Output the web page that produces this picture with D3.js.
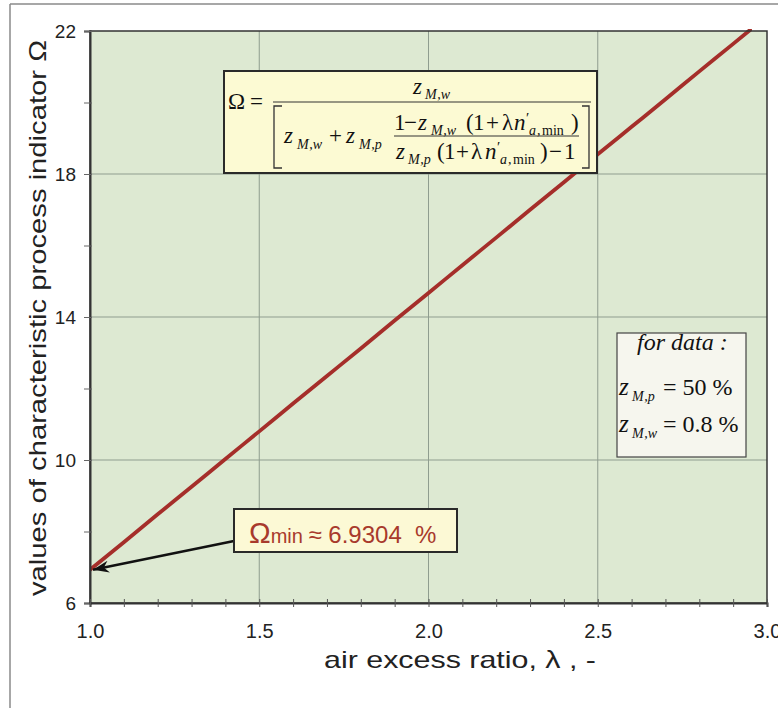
<!DOCTYPE html>
<html><head><meta charset="utf-8">
<script src="https://cdn.jsdelivr.net/npm/d3@7"></script>
<style>
html,body{margin:0;padding:0;background:#fff;}
svg{display:block;}
</style></head>
<body>
<svg id="chart" width="778" height="708"></svg>
<script>
// ---- data ----
const lambdaValues = [1.0,1.1,1.2,1.3,1.4,1.5,1.6,1.7,1.8,1.9,2.0,2.1,2.2,2.3,2.4,2.5,2.6,2.7,2.8,2.9,2.95];
const omegaValues  = [6.93,7.70,8.48,9.25,10.03,10.80,11.58,12.35,13.12,13.90,14.67,15.45,16.22,17.00,17.77,18.55,19.32,20.09,20.87,21.64,22.03];
const xTickValues = [1.0,1.1,1.2,1.3,1.4,1.5,1.6,1.7,1.8,1.9,2.0,2.1,2.2,2.3,2.4,2.5,2.6,2.7,2.8,2.9,3.0];
const xTickLabels = [1.0,1.5,2.0,2.5,3.0];
const yTickValues = [6,8,10,12,14,16,18,20,22];
const yTickLabels = [6,10,14,18,22];
const omegaMin = 6.9304;

const svg = d3.select("#chart");
const L = 90, R = 767, T = 31, B = 603;
const x = d3.scaleLinear().domain([1,3]).range([L,R]);
const y = d3.scaleLinear().domain([6,22]).range([B,T]);
const sans = "'Liberation Sans', Arial, sans-serif";
const serif = "'Liberation Serif', 'Times New Roman', serif";

// outer frame
svg.append("line").attr("x1",10).attr("y1",4).attr("x2",778).attr("y2",4).attr("stroke","#8a8a8a").attr("stroke-width",1.5);
svg.append("line").attr("x1",10).attr("y1",4).attr("x2",10).attr("y2",708).attr("stroke","#8a8a8a").attr("stroke-width",1.5);

// plot background
svg.append("rect").attr("x",L).attr("y",T).attr("width",R-L).attr("height",B-T).attr("fill","#dde9d2");

// grid
const grid = svg.append("g").attr("stroke","#8f9d8f").attr("stroke-width",1);
[10,14,18].forEach(v=>grid.append("line").attr("x1",L).attr("x2",R).attr("y1",y(v)).attr("y2",y(v)));
[1.5,2.0,2.5].forEach(v=>grid.append("line").attr("y1",T).attr("y2",B).attr("x1",x(v)).attr("x2",x(v)));

// clip
svg.append("clipPath").attr("id","clip").append("rect").attr("x",L).attr("y",T-2).attr("width",R-L).attr("height",B-T+2);

// data line
const pts = lambdaValues.map((l,i)=>[l,omegaValues[i]]);
svg.append("path").datum(pts).attr("clip-path","url(#clip)")
  .attr("d", d3.line().x(d=>x(d[0])).y(d=>y(d[1])).curve(d3.curveMonotoneX))
  .attr("fill","none").attr("stroke","#a52e2a").attr("stroke-width",3.8).attr("stroke-linecap","round");

// plot border
svg.append("rect").attr("x",L).attr("y",T).attr("width",R-L).attr("height",B-T)
  .attr("fill","none").attr("stroke","#333").attr("stroke-width",1.5);

// y axis
const yAxis = svg.append("g").attr("transform",`translate(${L},0)`)
  .call(d3.axisLeft(y).tickValues(yTickValues).tickSize(6).tickPadding(8)
    .tickFormat(d=>yTickLabels.includes(d)?d:""));
yAxis.select(".domain").attr("stroke","#333").attr("stroke-width",2);
yAxis.selectAll(".tick line").attr("x1",2).attr("x2",-6).attr("stroke","#666");
yAxis.selectAll(".tick text").attr("font-family",sans).attr("font-size",19).attr("fill","#222").attr("x",-14);

// x axis
const xAxis = svg.append("g").attr("transform",`translate(0,${B})`)
  .call(d3.axisBottom(x).tickValues(xTickValues).tickSize(4).tickPadding(8)
    .tickFormat(d=>xTickLabels.some(v=>Math.abs(v-d)<1e-9)?d3.format(".1f")(d):""));
xAxis.select(".domain").attr("stroke","#333").attr("stroke-width",2);
xAxis.selectAll(".tick line").attr("y1",-4).attr("y2",4).attr("stroke","#555");
xAxis.selectAll(".tick text").attr("font-family",sans).attr("font-size",20).attr("fill","#222")
  .attr("y",21).attr("dy","0.71em");

// axis titles
svg.append("text").attr("x",460).attr("y",668).attr("text-anchor","middle")
  .attr("font-family",sans).attr("font-size",24).attr("fill","#222")
  .attr("textLength",272).attr("lengthAdjust","spacingAndGlyphs")
  .text("air excess  ratio,  λ , -");
svg.append("text").attr("transform","translate(46,318) rotate(-90)").attr("text-anchor","middle")
  .attr("font-family",sans).attr("font-size",24).attr("fill","#222")
  .attr("textLength",556).attr("lengthAdjust","spacingAndGlyphs")
  .text("values of characteristic process indicator  Ω");

// ---- formula box ----
const fb = svg.append("g");
fb.append("rect").attr("x",224).attr("y",71).attr("width",373).attr("height",102)
  .attr("fill","#fcfad3").attr("stroke","#2a2a2a").attr("stroke-width",2);
function tok(g, px, py, t, size, italic){
  g.append("text").attr("x",px).attr("y",py).attr("font-family",serif).attr("font-size",size)
   .attr("font-style",italic?"italic":"normal").attr("fill","#111")
   .attr("xml:space","preserve").text(t);
}
function sub(g, px, py, a, b, size){
  const s = size||14;
  tok(g,px,py,a,s,true);
  tok(g,px+s*0.88,py,",",s,true);
  tok(g,px+s*1.12,py,b,s,true);
}
tok(fb,228,109,"Ω",23,false);
tok(fb,250,109,"=",23,false);
fb.append("line").attr("x1",273).attr("x2",591).attr("y1",102).attr("y2",102).attr("stroke","#333").attr("stroke-width",1.2);
// numerator
tok(fb,413,94,"z",23,true);
sub(fb,425,99,"M","w");
// brackets
fb.append("path").attr("d","M282,106 L274,106 L274,168 L282,168").attr("fill","none").attr("stroke","#333").attr("stroke-width",1.3);
fb.append("path").attr("d","M582,106 L589,106 L589,168 L582,168").attr("fill","none").attr("stroke","#333").attr("stroke-width",1.3);
// denominator main
tok(fb,284,143,"z",23,true);
sub(fb,297,149,"M","w");
tok(fb,329,143,"+",23,false);
tok(fb,346,143,"z",23,true);
sub(fb,359,149,"M","p");
// inner fraction
fb.append("line").attr("x1",394).attr("x2",579).attr("y1",136).attr("y2",136).attr("stroke","#333").attr("stroke-width",1);
const yn = 130, ys = 135;
tok(fb,394,yn,"1",23,false);
tok(fb,404,yn,"−",23,false);
tok(fb,418,yn,"z",23,true);
sub(fb,431,ys,"M","w");
tok(fb,466,yn,"(",23,false);
tok(fb,473,yn,"1",23,false);
tok(fb,486,yn,"+",23,false);
tok(fb,502,yn,"λ",23,false);
tok(fb,514,yn,"n",23,true);
tok(fb,526,yn-7,"′",15,false);
tok(fb,529,ys,"a",14,true);
tok(fb,537,ys,",",14,false);
tok(fb,542,ys,"min",14,false);
tok(fb,571,yn,")",23,false);
const yd = 159, yds = 164;
tok(fb,396,yd,"z",23,true);
sub(fb,408,yds,"M","p");
tok(fb,437,yd,"(",23,false);
tok(fb,444,yd,"1",23,false);
tok(fb,456,yd,"+",23,false);
tok(fb,471,yd,"λ",23,false);
tok(fb,485,yd,"n",23,true);
tok(fb,497,yd-7,"′",15,false);
tok(fb,500,yds,"a",14,true);
tok(fb,508,yds,",",14,false);
tok(fb,513,yds,"min",14,false);
tok(fb,540,yd,")",23,false);
tok(fb,549,yd,"−",23,false);
tok(fb,564,yd,"1",23,false);

// ---- data box ----
const db = svg.append("g");
db.append("rect").attr("x",617).attr("y",333).attr("width",129).attr("height",124)
  .attr("fill","#f6f6ee").attr("stroke","#444").attr("stroke-width",1.2);
tok(db,637,350,"for data :",24,true);
tok(db,619,395,"z",25,true);
sub(db,632,401,"M","p",14);
tok(db,663,395,"= 50 %",24,false);
tok(db,619,432,"z",25,true);
sub(db,632,438,"M","w",14);
tok(db,663,432,"= 0.8 %",24,false);

// ---- Ω min annotation ----
svg.append("defs").append("marker").attr("id","arr").attr("viewBox","-16 -7 18 14")
  .attr("refX",0).attr("refY",0).attr("markerWidth",18).attr("markerHeight",14)
  .attr("markerUnits","userSpaceOnUse").attr("orient","auto")
  .append("path").attr("d","M0,0 L-16,-6 L-11,0 L-16,6 Z").attr("fill","#111");
svg.append("line").attr("x1",234).attr("y1",541).attr("x2",x(1.0)+3).attr("y2",y(omegaMin))
  .attr("stroke","#111").attr("stroke-width",2.5).attr("marker-end","url(#arr)");
const ab = svg.append("g");
ab.append("rect").attr("x",234).attr("y",509).attr("width",223).attr("height",43)
  .attr("fill","#fcf9d5").attr("stroke","#2a2a2a").attr("stroke-width",2);
const at = ab.append("text").attr("x",249).attr("y",543).attr("font-family",sans).attr("fill","#a83a2c").attr("xml:space","preserve");
at.append("tspan").attr("font-size",29).text("Ω");
at.append("tspan").attr("font-size",20).text("min ");
at.append("tspan").attr("font-size",24).text("≈ " + omegaMin + "  %");
</script>
</body></html>
